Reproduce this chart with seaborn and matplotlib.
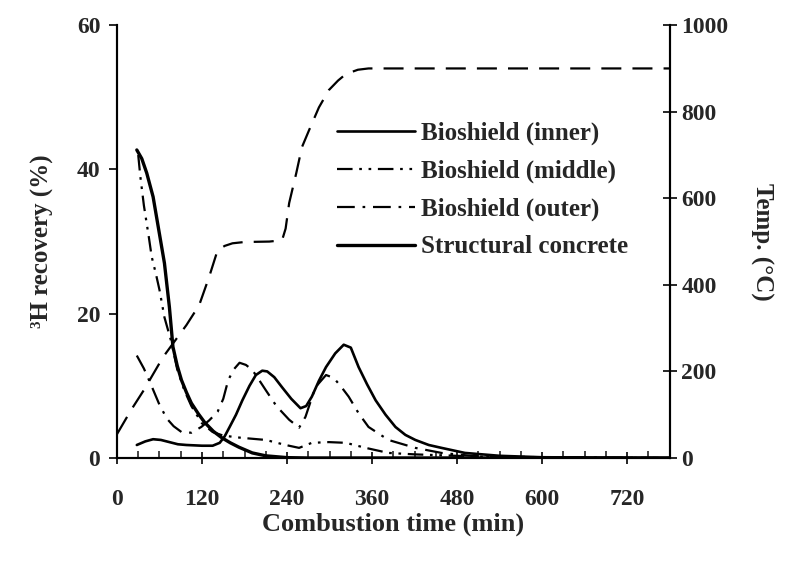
import matplotlib
matplotlib.use("Agg")
import matplotlib.pyplot as plt
import seaborn as sns

# time (min) / 3H recovery (%)
t_inner = [28, 40, 51, 62, 74, 86, 98, 120, 135, 145, 152, 159, 168, 177, 187, 196, 205, 212, 222, 233,
           246, 259, 267, 275, 285, 295, 308, 320, 330, 341, 353, 365, 379, 393, 407, 421, 440, 458, 491, 540, 600, 780]
inner = [1.8, 2.3, 2.6, 2.5, 2.2, 1.9, 1.8, 1.7, 1.7, 2.1, 3.0, 4.3, 6.0, 8.0, 10.0, 11.5, 12.1, 12.0, 11.2, 9.8,
         8.2, 6.9, 7.2, 8.5, 10.7, 12.6, 14.5, 15.7, 15.3, 12.6, 10.2, 8.0, 6.0, 4.3, 3.2, 2.5, 1.8, 1.4, 0.7, 0.3, 0.1, 0.0]

t_middle = [30, 33, 38, 45, 49, 55, 60, 67, 77, 85, 95, 105, 120, 135, 150, 175, 210, 238, 257, 275,
            299, 323, 351, 383, 420, 480, 540, 600, 780]
middle = [42.0, 39.0, 35.0, 30.6, 27.9, 25.5, 23.3, 19.5, 16.0, 12.3, 9.4, 7.2, 4.8, 3.6, 3.1, 2.8, 2.5, 1.8, 1.4, 2.1,
          2.2, 2.1, 1.4, 0.7, 0.5, 0.3, 0.1, 0.0, 0.0]

t_outer = [28, 38, 47, 59, 70, 80, 91, 105, 119, 130, 142, 150, 157, 165, 173, 182, 191, 200, 210, 225,
           243, 257, 266, 280, 295, 306, 317, 327, 341, 355, 383, 421, 458, 500, 600, 780]
outer = [14.2, 12.4, 10.4, 7.6, 5.5, 4.4, 3.6, 3.5, 4.3, 5.2, 6.4, 8.2, 10.8, 12.3, 13.2, 12.9, 12.2, 10.9, 9.4, 7.2,
         5.3, 4.2, 5.7, 9.8, 11.5, 11.1, 9.8, 8.5, 6.2, 4.3, 2.5, 1.4, 0.7, 0.3, 0.1, 0.0]

t_concrete = [28, 35, 42, 51, 59, 67, 74, 79, 85, 91, 98, 105, 115, 124, 136, 148, 160, 172, 191, 210, 240, 270, 780]
concrete = [42.7, 41.5, 39.5, 36.2, 31.6, 27.0, 20.9, 15.4, 12.8, 10.8, 9.1, 7.6, 6.1, 4.9, 3.7, 2.8, 2.1, 1.5, 0.7, 0.3, 0.05, 0.0, 0.0]

# furnace temperature (degC)
t_temp = [0, 20, 38, 65, 98, 116, 130, 142, 152, 163, 180, 215, 233, 238, 243, 253, 261, 271, 285, 299,
          312, 323, 340, 355, 380, 780]
temp = [55, 111, 157, 233, 307, 353, 418, 480, 490, 496, 499, 500, 503, 530, 589, 658, 718, 757, 810, 850,
        872, 887, 897, 900, 900, 900]

labels = ["Bioshield (inner)", "Bioshield (middle)", "Bioshield (outer)", "Structural concrete"]

sns.set_style("ticks")
plt.rcParams["font.family"] = ["Liberation Serif", "DejaVu Serif"]
plt.rcParams["font.weight"] = "bold"

fig = plt.figure(figsize=(7.93, 5.68), dpi=100)
ax = fig.add_axes([0.1475, 0.1937, 0.697, 0.762])
ax2 = ax.twinx()

sns.lineplot(x=t_temp, y=temp, ax=ax2, color="black", linewidth=1.6, linestyle=(0, (9, 5)))

sns.lineplot(x=t_inner, y=inner, ax=ax, color="black", linewidth=1.9, label=labels[0])
sns.lineplot(x=t_middle, y=middle, ax=ax, color="black", linewidth=1.6,
             linestyle=(0, (7, 3, 1.2, 3, 1.2, 3)), label=labels[1])
sns.lineplot(x=t_outer, y=outer, ax=ax, color="black", linewidth=1.6,
             linestyle=(0, (8, 3.5, 1.2, 3.5)), label=labels[2])
sns.lineplot(x=t_concrete, y=concrete, ax=ax, color="black", linewidth=2.4, label=labels[3])

ax.set_xlim(0, 780)
ax.set_ylim(0, 60)
ax2.set_ylim(0, 1000)
ax.set_xticks(range(0, 721, 120))
ax.set_xticks(range(0, 781, 30), minor=True)
ax.set_yticks([0, 20, 40, 60])
ax2.set_yticks(range(0, 1001, 200))

for a in (ax, ax2):
    a.spines["top"].set_visible(False)
    for s in a.spines.values():
        s.set_linewidth(1.5)
        s.set_color("black")
ax.tick_params(axis="x", which="major", direction="inout", length=9, width=1.4, labelsize=17, pad=18)
ax.tick_params(axis="x", which="minor", direction="in", length=5, width=1.2)
ax.tick_params(axis="y", direction="out", length=6, width=1.4, labelsize=17, pad=6)
ax2.tick_params(axis="y", direction="inout", length=10, width=1.4, labelsize=17)

ax.set_xlabel("Combustion time (min)", fontsize=19, fontweight="bold", labelpad=2)
ax.set_ylabel("³H recovery (%)", fontsize=18, fontweight="bold", labelpad=16)
ax2.set_ylabel("Temp. (°C)", fontsize=18, fontweight="bold", rotation=270, labelpad=32)

leg = ax.legend(loc="upper left", bbox_to_anchor=(0.38, 0.80), frameon=False, fontsize=18,
                handlelength=3.1, labelspacing=0.58, handletextpad=0.25, borderaxespad=0)
for txt in leg.get_texts():
    txt.set_fontweight("bold")

fig.savefig("out.png", dpi=100)
